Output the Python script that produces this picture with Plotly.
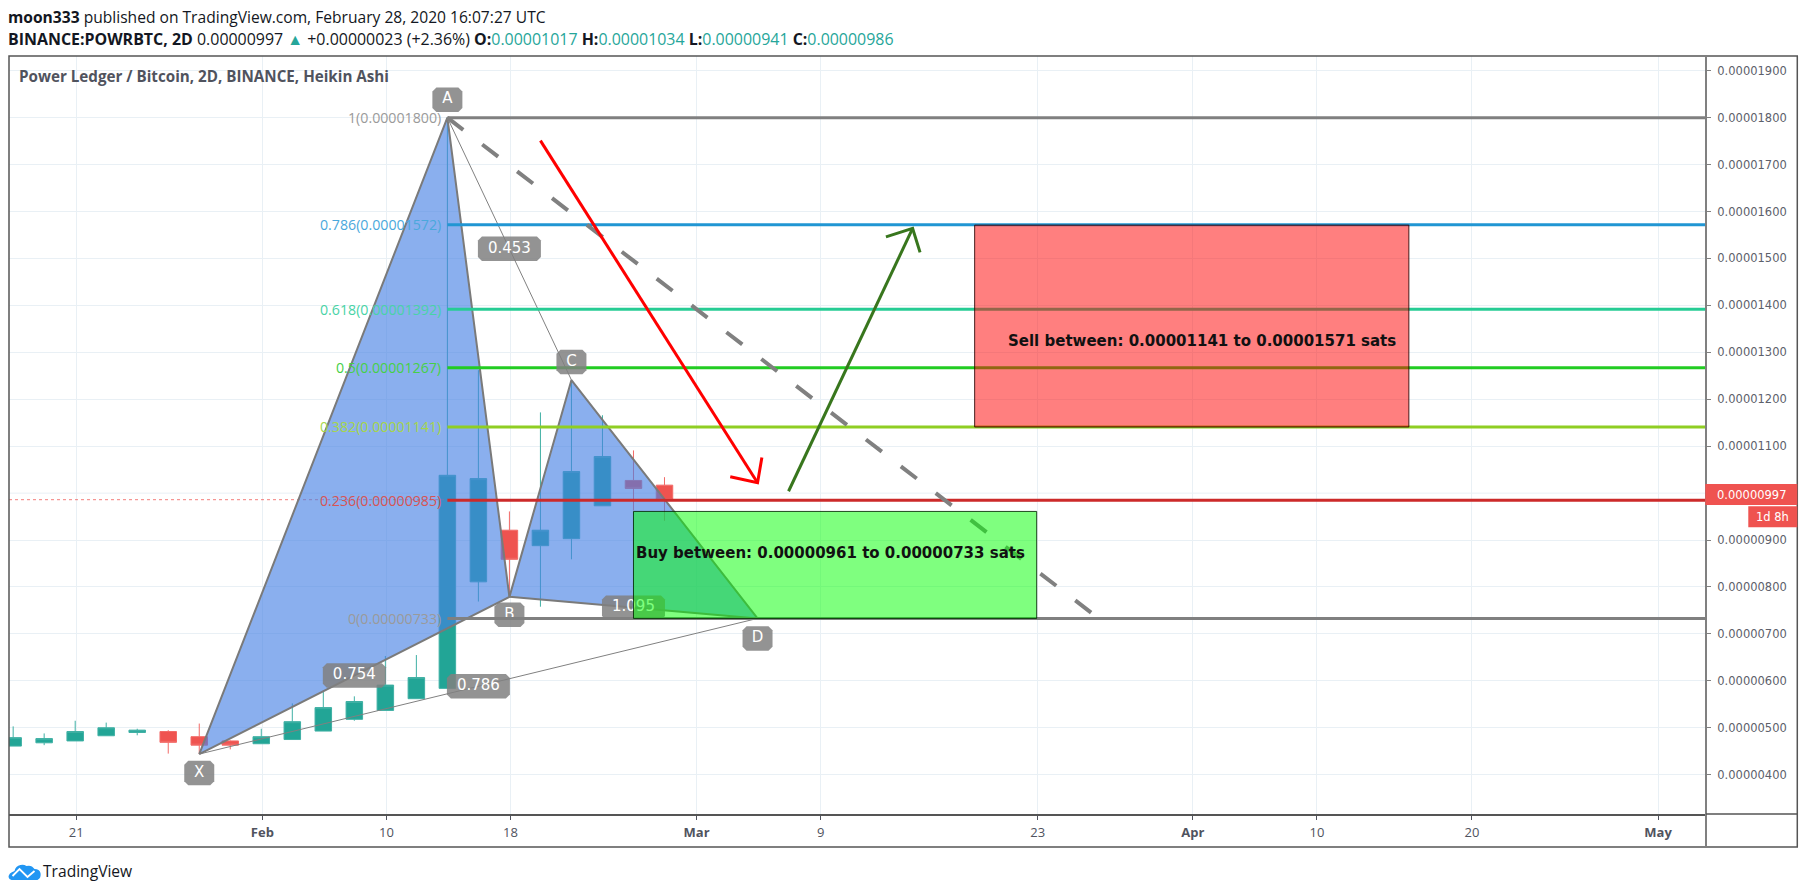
import plotly.graph_objects as go

W, H = 1805, 894
L, R, T, B = 8.5, 1805 - 1705.7, 56, 894 - 814

# --- data (prices in satoshi, x in 2D bar index) ---
bar_index = list(range(22))
opens  = [461, 468, 472, 483, 490, 492, 481, 472, 466, 475, 493, 518, 537, 562, 584, 811, 921, 888, 903, 973, 1027, 1017]
highs  = [503, 488, 515, 511, 498, 495, 509, 473, 498, 552, 579, 567, 653, 655, 1800, 1262, 961, 1172, 1241, 1166, 1091, 1034]
lows   = [461, 463, 472, 483, 484, 445, 444, 454, 466, 475, 493, 515, 537, 562, 584, 769, 779, 758, 859, 973, 963, 941]
closes = [479, 477, 492, 500, 495, 469, 463, 463, 481, 513, 543, 556, 591, 607, 1038, 1031, 859, 921, 1046, 1078, 1010, 986]

tick_bars = [2.035, 8.035, 12.035, 16.035, 22.035, 26.035, 33.035, 38.035, 42.035, 47.035, 53.035]
tick_text = ["21", "<b>Feb</b>", "10", "18", "<b>Mar</b>", "9", "23", "<b>Apr</b>", "10", "20", "<b>May</b>"]
price_ticks = [400, 500, 600, 700, 800, 900, 1100, 1200, 1300, 1400, 1500, 1600, 1700, 1800, 1900]
hidden_tick_grid = 1000

fib_ratios = ["1", "0.786", "0.618", "0.5", "0.382", "0.236", "0"]
fib_prices = [1800, 1572, 1392, 1267, 1141, 985, 733]
fib_colors = ["#808080", "#2196d3", "#26cc94", "#22cc22", "#8fce23", "#cc2a2a", "#808080"]
fib_text_colors = ["#9a9a9a", "#4aa8dc", "#48d3a6", "#46d046", "#a6d64a", "#d75454", "#9a9a9a"]

pattern_names = ["X", "A", "B", "C", "D"]
pattern_bars = [6, 14, 16, 18, 24]
pattern_prices = [444, 1800, 779, 1241, 733]
letter_shift_px = [19, -18, 18, -18, 20]

ratio_text = ["0.754", "0.453", "0.786", "1.095"]
ratio_pairs = [(0, 2), (1, 3), (0, 4), (2, 4)]

dash_bars, dash_prices = [14, 35], [1800, 733]
red_shaft_bars, red_shaft_prices = [17, 24], [1751, 1022]
red_head_bars, red_head_prices = [23.12, 24, 24.14], [1035, 1022, 1076]
green_shaft_bars, green_shaft_prices = [25, 29], [1004, 1564]
green_head_bars, green_head_prices = [28.14, 29, 29.24], [1546, 1564, 1513]

sell_bars, sell_prices = [31, 45], [1141, 1571]
buy_bars, buy_prices = [20, 33], [733, 961]
sell_text = "Sell between: 0.00001141 to 0.00001571 sats"
buy_text = "Buy between: 0.00000961 to 0.00000733 sats"

# --- scales used only for px-sized decorations ---
PX_PER_BAR = 31.02
PX_PER_SAT = 0.4693
SAT = 1e-8
X_RANGE = [-0.134, 54.58]
Y_RANGE = [316.3 * SAT, 1931.4 * SAT]

def px(x):
    return (x - L) / (W - L - R)

def py(y):
    return 1 - (y - T) / (H - T - B)

def sats(v):
    return [a * SAT for a in v]

BOX = "rgba(128,128,128,0.85)"
fig = go.Figure()

fig.add_trace(go.Candlestick(
    x=bar_index, open=sats(opens), high=sats(highs), low=sats(lows), close=sats(closes),
    increasing=dict(line=dict(color="#3fb0a4", width=1), fillcolor="#22a596"),
    decreasing=dict(line=dict(color="#f26a67", width=1), fillcolor="#ef5350"),
    whiskerwidth=0, hoverinfo="skip", showlegend=False))

def line(xs, ys, color, width, dash=None, **kw):
    fig.add_trace(go.Scatter(x=xs, y=sats(ys), mode="lines", hoverinfo="skip", showlegend=False,
                             line=dict(color=color, width=width, dash=dash), **kw))

# last-price dotted line
line(X_RANGE, [986, 986], "rgba(239,83,80,0.75)", 1, "dot")

# thin AC / XD legs
line([pattern_bars[1], pattern_bars[3]], [pattern_prices[1], pattern_prices[3]], "#808080", 1)
line([pattern_bars[0], pattern_bars[4]], [pattern_prices[0], pattern_prices[4]], "#808080", 1)

# harmonic triangles
for a, b, c in [(0, 1, 2), (2, 3, 4)]:
    line([pattern_bars[a], pattern_bars[b], pattern_bars[c], pattern_bars[a]],
         [pattern_prices[a], pattern_prices[b], pattern_prices[c], pattern_prices[a]],
         "#7a7a7a", 2, fill="toself", fillcolor="rgba(70,128,228,0.63)")

# fib levels (level 0 is drawn later, over the B label)
for i, (p, c) in enumerate(zip(fib_prices, fib_colors)):
    if i < 6:
        line([14, X_RANGE[1]], [p, p], c, 3)

# dashed diagonal, arrows
line(dash_bars, dash_prices, "#808080", 4, "20px,24px")
line(red_shaft_bars, red_shaft_prices, "#ff0000", 3)
line(red_head_bars, red_head_prices, "#ff0000", 3)
line(green_shaft_bars, green_shaft_prices, "#38761d", 3)
line(green_head_bars, green_head_prices, "#38761d", 3)

# rounded label boxes
def rbox(xc, yc, w, h, r=4):
    hw, hh = w / 2 / PX_PER_BAR, h / 2 / PX_PER_SAT
    rx, ry = r / PX_PER_BAR, r / PX_PER_SAT
    xs = [xc - hw + rx, xc + hw - rx, xc + hw, xc + hw, xc + hw - rx, xc - hw + rx, xc - hw, xc - hw, xc - hw + rx]
    ys = [yc + hh, yc + hh, yc + hh - ry, yc - hh + ry, yc - hh, yc - hh, yc - hh + ry, yc + hh - ry, yc + hh]
    fig.add_trace(go.Scatter(x=xs, y=sats(ys), mode="lines", fill="toself", fillcolor=BOX,
                             line=dict(width=0), hoverinfo="skip", showlegend=False))

def box_text(xc, yc, t, size=15):
    fig.add_trace(go.Scatter(x=[xc], y=[yc * SAT], mode="text", text=[t], textposition="middle center",
                             textfont=dict(color="white", size=size, family="DejaVu Sans"),
                             hoverinfo="skip", showlegend=False))

label_items = []
for n, b, p, s in zip(pattern_names, pattern_bars, pattern_prices, letter_shift_px):
    label_items.append((b, p - s / PX_PER_SAT, n, 30))
for t, (a, b) in zip(ratio_text, ratio_pairs):
    label_items.append(((pattern_bars[a] + pattern_bars[b]) / 2,
                        (pattern_prices[a] + pattern_prices[b]) / 2, t, 63))
for xc, yc, t, w in label_items:
    rbox(xc, yc, w, 24.5)
for xc, yc, t, w in label_items:
    box_text(xc, yc, t)

line([14, X_RANGE[1]], [fib_prices[6], fib_prices[6]], fib_colors[6], 3)

annotations = []
# fib labels
for r, p, c in zip(fib_ratios, fib_prices, fib_text_colors):
    annotations.append(dict(x=14, y=p * SAT, xref="x", yref="y", xanchor="right", yanchor="middle", xshift=-4,
                            text=f"{r}(0.{p:08d})", showarrow=False, font=dict(family="Open Sans", size=14.2, color=c)))

annotations.append(dict(x=sell_bars[0], y=1300 * SAT, xref="x", yref="y",
                        text=f"<b>{sell_text}</b>", showarrow=False, xanchor="left", xshift=31,
                        yshift=11, font=dict(family="DejaVu Sans", size=15, color="#111111")))
annotations.append(dict(x=buy_bars[0], y=(buy_prices[0] + buy_prices[1]) / 2 * SAT, xref="x", yref="y",
                        text=f"<b>{buy_text}</b>", showarrow=False, xanchor="left", xshift=1,
                        yshift=11.5, font=dict(family="DejaVu Sans", size=15, color="#111111")))

GRN = "#26a69a"
def head(x, y, t, size=15.7, color="#131722", family="Open Sans", xanchor="left"):
    annotations.append(dict(x=px(x), y=py(y), xref="paper", yref="paper", xanchor=xanchor, yanchor="middle",
                            text=t, showarrow=False, font=dict(family=family, size=size, color=color)))

head(5, 17, "<b>moon333</b> published on TradingView.com, February 28, 2020 16:07:27 UTC", size=15.6)
head(5, 39, "<b>BINANCE:POWRBTC, 2D</b> 0.00000997"
     f" <span style='color:{GRN}'>▲</span> +0.00000023 (+2.36%)"
     f" <b>O:</b><span style='color:{GRN}'>0.00001017</span>"
     f" <b>H:</b><span style='color:{GRN}'>0.00001034</span>"
     f" <b>L:</b><span style='color:{GRN}'>0.00000941</span>"
     f" <b>C:</b><span style='color:{GRN}'>0.00000986</span>", size=15.95)
head(17, 76, "<b>Power Ledger / Bitcoin, 2D, BINANCE, Heikin Ashi</b>", size=15.2, color="#50535e")
head(41, 870.5, "TradingView", size=15.6, color="#131722")
head(1752, 494.5, "0.00000997", size=11.5, color="white", family="DejaVu Sans", xanchor="center")
head(1772, 517, "1d 8h", size=11.5, color="white", family="DejaVu Sans", xanchor="center")

shapes = []
def paper_line(x0, y0, x1, y1, color, width):
    shapes.append(dict(type="line", xref="paper", yref="paper", x0=px(x0), y0=py(y0), x1=px(x1), y1=py(y1),
                       line=dict(color=color, width=width)))

def paper_rect(x0, y0, x1, y1, fill, lc=None, lw=0):
    shapes.append(dict(type="rect", xref="paper", yref="paper", x0=px(x0), y0=py(y0), x1=px(x1), y1=py(y1),
                       fillcolor=fill, line=dict(color=lc, width=lw)))

# gridline behind the last-price tag
shapes.append(dict(type="line", xref="paper", yref="y", x0=0, x1=1, y0=hidden_tick_grid * SAT, y1=hidden_tick_grid * SAT,
                   layer="below", line=dict(color="#e9f0f5", width=1)))

# zone rectangles
for bars, prices, fill, edge in [(sell_bars, sell_prices, "rgba(255,0,0,0.5)", "rgba(40,0,0,0.85)"),
                                 (buy_bars, buy_prices, "rgba(0,255,0,0.5)", "rgba(0,40,0,0.85)")]:
    shapes.append(dict(type="rect", xref="x", yref="y", x0=bars[0], x1=bars[1], y0=prices[0] * SAT, y1=prices[1] * SAT,
                       fillcolor=fill, line=dict(color=edge, width=1)))

# frame and axis rules
paper_rect(8.5, 56, 1797, 847, "rgba(0,0,0,0)", "#555555", 1.5)
paper_line(1705.7, 56, 1705.7, 847, "#808080", 2)
paper_line(1705.7, 814, 1797, 814, "#555555", 1.5)
# last price tags
paper_rect(1705, 484, 1797, 505, "#ef5350", None, 0)
paper_rect(1748, 506.3, 1797, 527.3, "#ef5350", None, 0)

# TradingView cloud logo
cloud = (f"M {px(11)} {py(880)} L {px(37)} {py(880)} Q {px(41)} {py(878)} {px(40)} {py(873)} "
         f"Q {px(39)} {py(869)} {px(34)} {py(869)} Q {px(31)} {py(864.5)} {px(26)} {py(866)} "
         f"Q {px(23)} {py(864)} {px(20)} {py(865)} Q {px(15)} {py(866)} {px(14)} {py(871)} "
         f"Q {px(8)} {py(873)} {px(8)} {py(877)} Q {px(8.5)} {py(879.5)} {px(11)} {py(880)} Z")
shapes.append(dict(type="path", xref="paper", yref="paper", path=cloud, fillcolor="#2196f3", line=dict(width=0)))
zig = f"M {px(12)} {py(876)} L {px(19)} {py(869)} L {px(27)} {py(877)} L {px(34)} {py(871)}"
shapes.append(dict(type="path", xref="paper", yref="paper", path=zig, line=dict(color="white", width=1.8)))

fig.update_layout(
    width=W, height=H, margin=dict(l=L, r=R, t=T, b=B, pad=0),
    paper_bgcolor="white", plot_bgcolor="white", showlegend=False, boxgap=0.24,
    annotations=annotations, shapes=shapes, hovermode=False,
    font=dict(family="DejaVu Sans"),
    xaxis=dict(range=X_RANGE, rangeslider=dict(visible=False), tickmode="array", tickvals=tick_bars, ticktext=tick_text,
               showgrid=True, gridcolor="#e9f0f5", gridwidth=1, zeroline=False, ticks="outside", ticklen=4, tickcolor="#50535e",
               showline=True, linecolor="#555555", linewidth=1.5, tickfont=dict(family="Open Sans", size=13, color="#50535e"),
               ticklabelstandoff=2),
    yaxis=dict(range=Y_RANGE, side="right", tickmode="array", tickvals=sats(price_ticks), tickformat=".8f",
               showgrid=True, gridcolor="#e9f0f5", gridwidth=1, zeroline=False, ticks="outside", ticklen=4, tickcolor="#808080",
               showline=False, tickfont=dict(family="DejaVu Sans", size=11.5, color="#5d606b"), ticklabelstandoff=4),
)

fig.write_html("out.html", post_script="document.body.style.margin='0';", config={"displayModeBar": False})
